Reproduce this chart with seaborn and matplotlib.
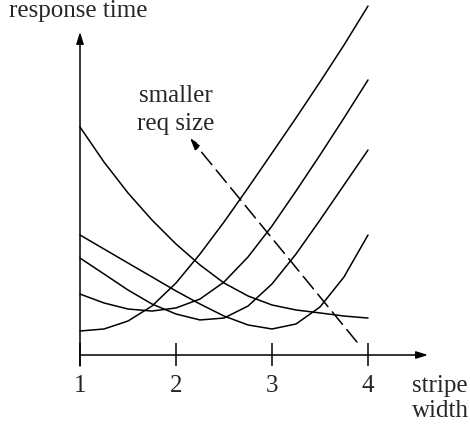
import numpy as np
import pandas as pd
import matplotlib
matplotlib.use("Agg")
import matplotlib.pyplot as plt
import seaborn as sns

# ---- data (y in arbitrary response-time units) ----
stripe_width = [1.0, 1.25, 1.5, 1.75, 2.0, 2.25, 2.5, 2.75, 3.0, 3.25, 3.5, 3.75, 4.0]
curve_a = [0.250, 0.271, 0.354, 0.510, 0.750, 1.052, 1.385, 1.740, 2.104, 2.469, 2.844, 3.229, 3.635]
curve_b = [0.635, 0.542, 0.479, 0.458, 0.490, 0.583, 0.760, 1.021, 1.344, 1.708, 2.083, 2.469, 2.865]
curve_c = [1.010, 0.844, 0.677, 0.531, 0.427, 0.365, 0.385, 0.510, 0.740, 1.052, 1.406, 1.771, 2.135]
curve_d = [1.250, 1.104, 0.958, 0.813, 0.667, 0.531, 0.406, 0.313, 0.271, 0.323, 0.500, 0.813, 1.250]
curve_e = [2.375, 2.010, 1.688, 1.406, 1.156, 0.938, 0.750, 0.615, 0.521, 0.469, 0.438, 0.406, 0.385]
x_ticks = [1, 2, 3, 4]
x_tick_labels = ["1", "2", "3", "4"]
y_label = "response time"
note_lines = ["smaller", "req size"]

sns.set_style("white")
plt.rcParams["font.family"] = ["Liberation Serif", "DejaVu Serif"]

rows = []
for name, vals in [("a", curve_a), ("b", curve_b), ("c", curve_c), ("d", curve_d), ("e", curve_e)]:
    for x, y in zip(stripe_width, vals):
        rows.append({"curve": name, "x": x, "y": y})
df = pd.DataFrame(rows)

fig = plt.figure(figsize=(4.7, 4.26), dpi=100)
ax = fig.add_axes([0, 0, 1, 1])
ax.set_xlim(1 - 80 / 96, 1 + 390 / 96)
ax.set_ylim(-71 / 96, 355 / 96)
ax.axis("off")

sns.lineplot(data=df, x="x", y="y", hue="curve", palette=["black"] * 5,
             legend=False, linewidth=1.1, ax=ax, sort=False)

head = "-|>,head_length=0.7,head_width=0.22"
# axes with arrows
ax.annotate("", xy=(1, 3.365), xytext=(1, -0.115),
            arrowprops=dict(arrowstyle=head, color="black", lw=1.1, shrinkA=0, shrinkB=0))
ax.annotate("", xy=(4.625, 0), xytext=(1, 0),
            arrowprops=dict(arrowstyle=head, color="black", lw=1.1, shrinkA=0, shrinkB=0))
ax.vlines(x_ticks, -0.115, 0.125, color="black", lw=1.1)
for t, lab in zip(x_ticks, x_tick_labels):
    ax.text(t, -37 / 96, lab, ha="center", va="baseline", fontsize=18)

ax.text(0.979, 338 / 96, y_label, ha="center", va="baseline", fontsize=18)
ax.text(1 + 332 / 96, -37 / 96, "stripe", ha="left", va="baseline", fontsize=18)
ax.text(1 + 389 / 96, -62 / 96, "width", ha="right", va="baseline", fontsize=18)
ax.text(2.0, 253 / 96, note_lines[0], ha="center", va="baseline", fontsize=18)
ax.text(2.0, 225 / 96, note_lines[1], ha="center", va="baseline", fontsize=18)

# dashed arrow
ax.annotate("", xy=(2.146, 2.26), xytext=(3.885, 0.135),
            arrowprops=dict(arrowstyle=head, color="black", lw=1.1,
                            linestyle=(0, (10.5, 4.5)), shrinkA=0, shrinkB=0))

fig.savefig("out.png", dpi=100)
